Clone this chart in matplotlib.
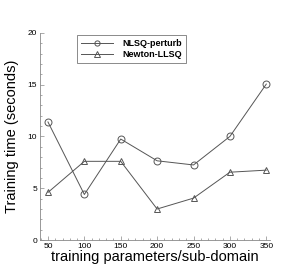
import matplotlib
matplotlib.use("Agg")
import matplotlib.pyplot as plt
from matplotlib.ticker import MultipleLocator

plt.rcParams["font.family"] = ["Liberation Sans", "DejaVu Sans"]

params = [50, 100, 150, 200, 250, 300, 350]
nlsq_perturb = [11.4, 4.4, 9.75, 7.65, 7.25, 10.0, 15.05]
newton_llsq = [4.6, 7.6, 7.6, 3.0, 4.05, 6.55, 6.75]

fig = plt.figure(figsize=(3.05, 2.71), dpi=100)
ax = fig.add_axes([0.131, 0.114, 0.754, 0.765])

c = "#555555"
ax.plot(params, nlsq_perturb, color=c, lw=0.7, marker="o", ms=5, mfc="none", mec=c, mew=0.7, label="NLSQ-perturb")
ax.plot(params, newton_llsq, color=c, lw=0.7, marker="^", ms=5, mfc="none", mec=c, mew=0.7, label="Newton-LLSQ")

ax.set_xlim(39, 355)
ax.set_ylim(0, 20)
ax.xaxis.set_major_locator(MultipleLocator(50))
ax.xaxis.set_minor_locator(MultipleLocator(10))
ax.yaxis.set_major_locator(MultipleLocator(5))
ax.yaxis.set_minor_locator(MultipleLocator(1))
for s in ["top", "right"]:
    ax.spines[s].set_visible(False)
for s in ["left", "bottom"]:
    ax.spines[s].set_color("#888888")
    ax.spines[s].set_linewidth(0.6)
ax.tick_params(which="both", direction="in", color="#888888", width=0.5)
ax.tick_params(which="major", length=3, labelsize=6, pad=2)
ax.tick_params(which="minor", length=1.5)

ax.set_xlabel("training parameters/sub-domain", fontsize=10.5, labelpad=0)
ax.set_ylabel("Training time (seconds)", fontsize=10.5, labelpad=6)

leg = ax.legend(loc="upper left", bbox_to_anchor=(0.16, 0.99), prop={"weight": "bold", "size": 6.5},
                frameon=True, fancybox=False, edgecolor="#555555", handlelength=3.6, borderpad=0.45,
                labelspacing=0.2, handletextpad=1.0, markerscale=0.75, borderaxespad=0)
leg.get_frame().set_linewidth(0.6)

fig.savefig("out.png", dpi=100)
